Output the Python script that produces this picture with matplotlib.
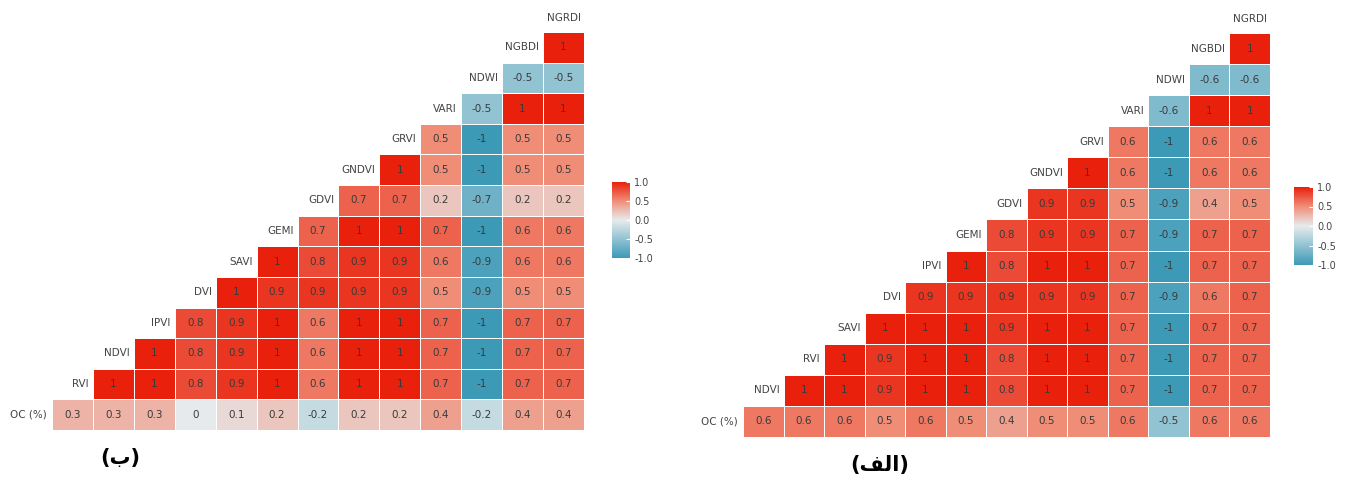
import numpy as np
import matplotlib
matplotlib.use("Agg")
import matplotlib.pyplot as plt
from matplotlib.colors import LinearSegmentedColormap

# chart (ب) - left
labels_b = ["OC (%)", "RVI", "NDVI", "IPVI", "DVI", "SAVI", "GEMI", "GDVI",
            "GNDVI", "GRVI", "VARI", "NDWI", "NGBDI", "NGRDI"]
rows_b = [
    [0.3, 0.3, 0.3, 0, 0.1, 0.2, -0.2, 0.2, 0.2, 0.4, -0.2, 0.4, 0.4],
    [1, 1, 0.8, 0.9, 1, 0.6, 1, 1, 0.7, -1, 0.7, 0.7],
    [1, 0.8, 0.9, 1, 0.6, 1, 1, 0.7, -1, 0.7, 0.7],
    [0.8, 0.9, 1, 0.6, 1, 1, 0.7, -1, 0.7, 0.7],
    [1, 0.9, 0.9, 0.9, 0.9, 0.5, -0.9, 0.5, 0.5],
    [1, 0.8, 0.9, 0.9, 0.6, -0.9, 0.6, 0.6],
    [0.7, 1, 1, 0.7, -1, 0.6, 0.6],
    [0.7, 0.7, 0.2, -0.7, 0.2, 0.2],
    [1, 0.5, -1, 0.5, 0.5],
    [0.5, -1, 0.5, 0.5],
    [-0.5, 1, 1],
    [-0.5, -0.5],
    [1],
]

# chart (الف) - right
labels_a = ["OC (%)", "NDVI", "RVI", "SAVI", "DVI", "IPVI", "GEMI", "GDVI",
            "GNDVI", "GRVI", "VARI", "NDWI", "NGBDI", "NGRDI"]
rows_a = [
    [0.6, 0.6, 0.6, 0.5, 0.6, 0.5, 0.4, 0.5, 0.5, 0.6, -0.5, 0.6, 0.6],
    [1, 1, 0.9, 1, 1, 0.8, 1, 1, 0.7, -1, 0.7, 0.7],
    [1, 0.9, 1, 1, 0.8, 1, 1, 0.7, -1, 0.7, 0.7],
    [1, 1, 1, 0.9, 1, 1, 0.7, -1, 0.7, 0.7],
    [0.9, 0.9, 0.9, 0.9, 0.9, 0.7, -0.9, 0.6, 0.7],
    [1, 0.8, 1, 1, 0.7, -1, 0.7, 0.7],
    [0.8, 0.9, 0.9, 0.7, -0.9, 0.7, 0.7],
    [0.9, 0.9, 0.5, -0.9, 0.4, 0.5],
    [1, 0.6, -1, 0.6, 0.6],
    [0.6, -1, 0.6, 0.6],
    [-0.6, 1, 1],
    [-0.6, -0.6],
    [1],
]

cmap = LinearSegmentedColormap.from_list(
    "corr", [(0, "#3C9AB7"), (0.5, "#E6EBED"), (0.75, "#F08E78"), (1, "#E8200C")], N=256)

W, H = 1349, 479
fig = plt.figure(figsize=(W / 100, H / 100), dpi=100)


def px_axes(x0, y0, x1, y1):
    return fig.add_axes([x0 / W, 1 - y1 / H, (x1 - x0) / W, (y1 - y0) / H])


def draw(ax, labels, rows):
    n = len(rows)
    M = np.full((n, n), np.nan)
    for i, r in enumerate(rows):
        M[i, n - len(r):] = r
    ax.pcolormesh(np.arange(n + 1), np.arange(n + 1), np.ma.masked_invalid(M),
                  cmap=cmap, vmin=-1, vmax=1, edgecolors="white", linewidth=0.4)
    for i, r in enumerate(rows):
        for k, v in enumerate(r):
            j = n - len(r) + k
            ax.text(j + 0.5, i + 0.5, f"{v:g}", ha="center", va="center",
                    fontsize=7.5, color="#3a3a3a")
    ax.text(-0.12, 0.5, labels[0], ha="right", va="center", fontsize=7.5,
            color="#444444", clip_on=False)
    for i in range(1, n):
        ax.text(i - 0.1, i + 0.5, labels[i], ha="right", va="center",
                fontsize=7.5, color="#444444", clip_on=False)
    ax.text(n - 0.5, n + 0.45, labels[n], ha="center", va="center",
            fontsize=7.5, color="#444444", clip_on=False)
    ax.set_xlim(0, n)
    ax.set_ylim(0, n)
    ax.axis("off")


def cbar(x0, y0, x1, y1):
    cax = px_axes(x0, y0, x1, y1)
    sm = plt.cm.ScalarMappable(cmap=cmap, norm=plt.Normalize(-1, 1))
    cb = fig.colorbar(sm, cax=cax, ticks=[-1, -0.5, 0, 0.5, 1])
    cb.outline.set_visible(False)
    cb.ax.set_yticklabels(["-1.0", "-0.5", "0.0", "0.5", "1.0"])
    cb.ax.tick_params(direction="in", color="white", length=3, width=0.8,
                      labelsize=7, labelcolor="#444444", pad=3)


ax_b = px_axes(52, 32, 584, 430)
draw(ax_b, labels_b, rows_b)
cbar(612, 182, 630, 258)

ax_a = px_axes(743, 33, 1270, 437)
draw(ax_a, labels_a, rows_a)
cbar(1294, 187, 1313, 265)

fam = ["DejaVu Sans", "Noto Sans"]
fig.text(120 / W, 1 - 458 / H, "(\u0628)", ha="center", va="center",
         fontsize=15, fontweight="bold", family=fam)
fig.text(880 / W, 1 - 465 / H, "(\uFED2\uFEDF\uFE8D)", ha="center", va="center",
         fontsize=15, fontweight="bold", family=fam)

fig.savefig("out.png", dpi=100)
